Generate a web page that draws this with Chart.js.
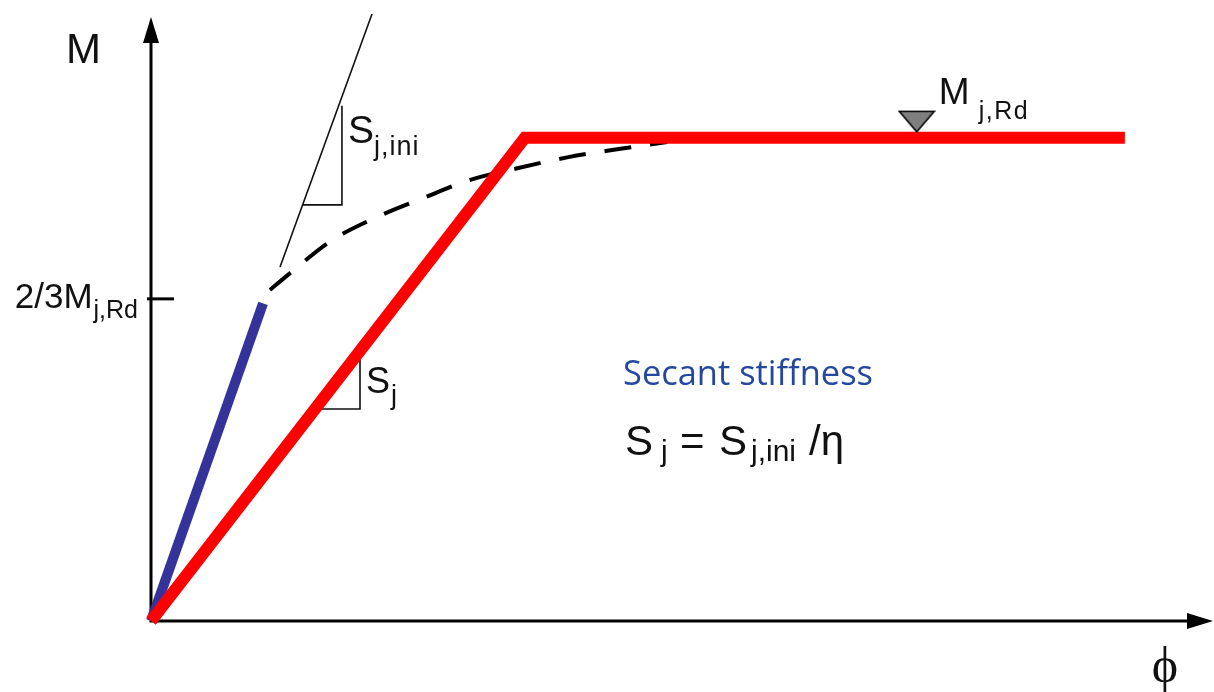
<!DOCTYPE html>
<html>
<head>
<meta charset="utf-8">
<title>Moment–rotation characteristic of a joint</title>
<script src="https://cdn.jsdelivr.net/npm/chart.js@4/dist/chart.umd.min.js"></script>
<style>
  html, body { margin: 0; padding: 0; background: #ffffff; }
  #wrap { width: 1214px; height: 692px; }
</style>
</head>
<body>
<div id="wrap"><canvas id="mphi" width="1214" height="692"></canvas></div>
<script>
// Rotation φ (arbitrary units, 0–100) and moment M (arbitrary units, 0–100)

// Design moment resistance level M_j,Rd
const mjRd = 80;
// Elastic limit tick: 2/3 of M_j,Rd
const elasticRatio = 2 / 3;
const tickLabelMain = '2/3M';
const tickLabelSub = 'j,Rd';

// Bilinear design curve using the secant stiffness S_j (red)
const bilinearPhi = [0, 35.2, 91.7];
const bilinearM = [0, mjRd, mjRd];

// Initial stiffness branch up to 2/3 M_j,Rd (blue)
const initialPhi = [0, 10.55];
const initialM = [0, 52.6];

// Actual non-linear response beyond the elastic limit (dashed)
const responsePhi = [11.2, 13.1, 17.1, 21.3, 25.6, 30.0, 34.6, 39.3, 43.9, 48.6];
const responseM = [54.8, 57.6, 63.1, 66.9, 70.0, 73.0, 75.0, 76.8, 78.1, 79.3];

// Tangent at the origin slope S_j,ini (thin line)
const tangentPhi = [12.15, 20.81];
const tangentM = [58.6, 100.5];

// Slope triangles
const sjIniTriPhi = [14.31, 17.98, 17.98];
const sjIniTriM = [68.9, 68.9, 85.3];
const sjTriPhi = [15.44, 19.68, 19.68];
const sjTriM = [35.1, 35.1, 43.2];

// Position of the M_j,Rd level marker along φ
const markerPhi = 72.1;

const pts = (xs, ys) => xs.map((x, i) => ({ x: x, y: ys[i] }));

// Downward triangle used as the level marker; its tip sits just above the point
function levelMarker() {
  const c = document.createElement('canvas');
  c.width = 38; c.height = 56;
  const g = c.getContext('2d');
  g.beginPath();
  g.moveTo(1.5, 1.5);
  g.lineTo(36.5, 1.5);
  g.lineTo(19, 22);
  g.closePath();
  g.fillStyle = '#7f7f7f';
  g.fill();
  g.lineWidth = 1.5;
  g.strokeStyle = '#000000';
  g.lineJoin = 'miter';
  g.stroke();
  return c;
}

const SANS = '"Liberation Sans", Arial, sans-serif';

function text(ctx, str, x, y, size, opts) {
  opts = opts || {};
  ctx.save();
  ctx.font = (opts.weight || 'normal') + ' ' + size + 'px ' + (opts.family || SANS);
  ctx.fillStyle = opts.color || '#111111';
  ctx.textAlign = opts.align || 'left';
  ctx.textBaseline = 'alphabetic';
  if (opts.spacing) ctx.letterSpacing = opts.spacing + 'px';
  ctx.fillText(str, x, y);
  const w = ctx.measureText(str).width;
  ctx.restore();
  return w;
}

// Axes with arrowheads and the 2/3 M_j,Rd tick, drawn from the scales
const axesPlugin = {
  id: 'axesWithArrows',
  beforeDatasetsDraw(chart) {
    const ctx = chart.ctx;
    const xs = chart.scales.x, ys = chart.scales.y;
    const x0 = xs.getPixelForValue(0), y0 = ys.getPixelForValue(0);
    const xEnd = xs.getPixelForValue(xs.max), yEnd = ys.getPixelForValue(ys.max);
    const head = 26, half = 8;
    ctx.save();
    ctx.strokeStyle = '#000000';
    ctx.fillStyle = '#000000';
    ctx.lineWidth = 3;
    ctx.lineCap = 'butt';
    ctx.beginPath();
    ctx.moveTo(x0, y0 + 1.5);
    ctx.lineTo(x0, yEnd + head - 2);
    ctx.moveTo(x0 - 1.5, y0);
    ctx.lineTo(xEnd - head + 2, y0);
    ctx.stroke();
    // arrowheads
    ctx.beginPath();
    ctx.moveTo(x0, yEnd);
    ctx.lineTo(x0 - half, yEnd + head);
    ctx.lineTo(x0 + half, yEnd + head);
    ctx.closePath();
    ctx.fill();
    ctx.beginPath();
    ctx.moveTo(xEnd, y0);
    ctx.lineTo(xEnd - head, y0 - half);
    ctx.lineTo(xEnd - head, y0 + half);
    ctx.closePath();
    ctx.fill();
    // elastic limit tick
    const yt = ys.getPixelForValue(elasticRatio * mjRd);
    ctx.lineWidth = 3;
    ctx.beginPath();
    ctx.moveTo(x0 - 4, yt);
    ctx.lineTo(x0 + 23, yt);
    ctx.stroke();
    ctx.restore();
  },
  afterDatasetsDraw(chart) {
    const ctx = chart.ctx;
    const xs = chart.scales.x, ys = chart.scales.y;
    const yt = ys.getPixelForValue(elasticRatio * mjRd);

    // axis titles
    text(ctx, 'M', 66, 63, 42);
    text(ctx, '\u03D5', 1165, 682, 50, { family: '"Liberation Serif", "DejaVu Serif", serif', align: 'center' });

    // tick label 2/3 M_j,Rd, right-aligned against the axis
    ctx.save();
    ctx.font = '35px ' + SANS;
    const wMain = ctx.measureText(tickLabelMain).width;
    ctx.font = '25px ' + SANS;
    const wSub = ctx.measureText(tickLabelSub).width;
    ctx.restore();
    const right = 138;
    const startX = right - wSub - wMain - 1;
    text(ctx, tickLabelMain, startX, yt + 9, 35);
    text(ctx, tickLabelSub, startX + wMain + 1, yt + 19, 25);

    // S_j,ini next to the tangent triangle
    text(ctx, 'S', 348, 143, 39);
    text(ctx, 'j,ini', 374, 155, 27, { spacing: 1 });

    // S_j next to the secant triangle
    text(ctx, 'S', 366, 393, 36);
    text(ctx, 'j', 391, 404, 27);

    // M_j,Rd next to the level marker
    const mx = xs.getPixelForValue(markerPhi);
    const my = ys.getPixelForValue(mjRd);
    text(ctx, 'M', mx + 22, my - 34, 37);
    text(ctx, 'j,Rd', mx + 62, my - 19, 25, { spacing: 1.5 });

    // Secant stiffness caption
    ctx.save();
    ctx.font = '35px "Open Sans", "Noto Sans", sans-serif';
    ctx.fillStyle = '#2447a0';
    const cap = 'Secant stiffness';
    const cw = ctx.measureText(cap).width;
    ctx.translate(623, 385);
    ctx.scale(250 / cw, 1);
    ctx.fillText(cap, 0, 0);
    ctx.restore();

    // S_j = S_j,ini / η
    text(ctx, 'S', 625, 455, 42);
    text(ctx, 'j', 661, 461, 30);
    text(ctx, '=', 680, 455, 42);
    text(ctx, 'S', 719, 455, 42);
    text(ctx, 'j,ini', 751, 461, 30);
    text(ctx, '/\u03B7', 809, 455, 42);
  }
};

const thin = { borderColor: '#111111', borderWidth: 1.6, pointRadius: 0, fill: false, tension: 0, clip: false };

new Chart(document.getElementById('mphi'), {
  type: 'line',
  data: {
    datasets: [
      {
        label: 'M_j,Rd marker',
        data: [{ x: markerPhi, y: mjRd }],
        showLine: false,
        pointStyle: levelMarker(),
        pointRadius: 10,
        order: 0
      },
      {
        label: 'Bilinear (S_j)',
        data: pts(bilinearPhi, bilinearM),
        borderColor: '#ff0000',
        borderWidth: 12,
        borderCapStyle: 'butt',
        borderJoinStyle: 'miter',
        pointRadius: 0,
        tension: 0,
        clip: false,
        order: 1
      },
      {
        label: 'Initial stiffness',
        data: pts(initialPhi, initialM),
        borderColor: '#333399',
        borderWidth: 10,
        borderCapStyle: 'butt',
        pointRadius: 0,
        tension: 0,
        clip: false,
        order: 2
      },
      {
        label: 'Non-linear response',
        data: pts(responsePhi, responseM),
        borderColor: '#000000',
        borderWidth: 4,
        borderDash: [27, 19],
        borderCapStyle: 'butt',
        pointRadius: 0,
        cubicInterpolationMode: 'monotone',
        clip: false,
        order: 3
      },
      Object.assign({ label: 'Tangent S_j,ini', data: pts(tangentPhi, tangentM), order: 4 }, thin),
      Object.assign({ label: 'S_j,ini triangle', data: pts(sjIniTriPhi, sjIniTriM), order: 4 }, thin),
      Object.assign({ label: 'S_j triangle', data: pts(sjTriPhi, sjTriM), order: 4 }, thin)
    ]
  },
  options: {
    responsive: false,
    animation: false,
    parsing: true,
    layout: { autoPadding: false, padding: { left: 151, right: 1, top: 17, bottom: 71 } },
    scales: {
      x: { type: 'linear', min: 0, max: 100, display: false },
      y: { type: 'linear', min: 0, max: 100, display: false }
    },
    plugins: {
      legend: { display: false },
      tooltip: { enabled: false }
    },
    elements: { line: { borderJoinStyle: 'miter' } }
  },
  plugins: [axesPlugin]
});
</script>
</body>
</html>
